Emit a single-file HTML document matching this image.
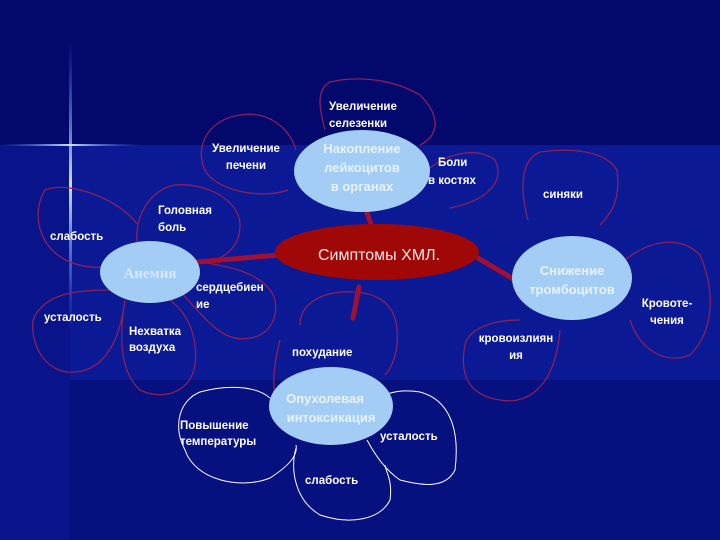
<!DOCTYPE html>
<html><head><meta charset="utf-8"><style>
html,body{margin:0;padding:0;}
body{width:720px;height:540px;overflow:hidden;background:#0b1690;}
svg{display:block;}
text{font-family:"Liberation Sans",sans-serif;font-weight:bold;}
</style></head><body>
<svg width="720" height="540" xmlns="http://www.w3.org/2000/svg">
<defs>
<linearGradient id="vs" x1="0" y1="0" x2="0" y2="1">
<stop offset="0" stop-color="#4a7aff" stop-opacity="0"/>
<stop offset="0.5" stop-color="#cfe0ff" stop-opacity="1"/>
<stop offset="1" stop-color="#4a7aff" stop-opacity="0"/>
</linearGradient>
<linearGradient id="hs" x1="0" y1="0" x2="1" y2="0">
<stop offset="0" stop-color="#4a7aff" stop-opacity="0"/>
<stop offset="0.5" stop-color="#cfe0ff" stop-opacity="1"/>
<stop offset="1" stop-color="#4a7aff" stop-opacity="0"/>
</linearGradient>
</defs>
<rect x="0" y="0" width="720" height="540" fill="#0c1994"/>
<rect x="0" y="0" width="720" height="145" fill="#03086c"/>
<rect x="0" y="145" width="70" height="395" fill="#0a148a"/>
<rect x="70" y="380" width="650" height="160" fill="#07107f"/>
<rect x="69" y="40" width="3" height="290" fill="url(#vs)"/>
<rect x="0" y="144" width="140" height="2" fill="url(#hs)"/>

<g fill="none" stroke="#8a1f5a" stroke-width="1.3">
<path d="M137 224 C120 200 70 180 45 190 C30 215 40 250 70 262 C90 270 110 268 118 262"/>
<path d="M137 242 C135 215 150 190 175 185 C205 182 240 200 240 225 C240 250 220 262 200 262"/>
<path d="M115 290 C85 290 45 290 33 320 C30 350 50 375 75 372 C105 370 120 340 125 300"/>
<path d="M125 300 C120 330 118 370 140 390 C160 400 190 395 195 365 C198 340 190 315 170 300"/>
<path d="M178 290 C200 310 220 345 250 338 C275 335 282 305 270 290 C255 270 220 265 200 262"/>
<path d="M296 150 C290 130 270 110 240 115 C205 120 195 150 205 170 C215 190 260 200 288 190"/>
<path d="M325 130 C320 110 315 90 330 82 C360 75 395 80 420 95 C440 115 440 135 420 145"/>
<path d="M425 172 C450 150 480 148 495 160 C505 180 490 200 450 208"/>
<path d="M528 220 C520 190 520 160 540 152 C570 148 605 150 617 170 C620 195 615 210 600 225"/>
<path d="M625 260 C650 240 680 235 700 255 C715 290 715 330 690 355 C665 365 640 350 630 320"/>
<path d="M520 320 C500 320 470 325 465 345 C460 370 465 395 500 400 C525 405 555 390 560 330"/>
<path d="M300 325 C300 305 320 290 355 292 C385 294 400 310 397 345 C395 360 390 370 385 375"/>
<path d="M275 395 C272 380 275 360 280 340"/>
</g>
<g fill="none" stroke="#ffffff" stroke-width="1">
<path d="M270 398 C255 385 225 385 200 392 C180 400 172 425 185 450 C195 480 240 490 270 478 C290 465 298 455 296 445"/>
<path d="M296 448 C290 470 295 500 320 515 C350 525 380 520 390 500 C393 480 385 470 385 465"/>
<path d="M373 405 C380 395 395 388 420 392 C450 400 460 430 455 470 C445 490 420 485 400 480 C385 470 375 455 367 440"/>
</g>

<g stroke="#a01030" stroke-width="5" stroke-linecap="round">
<line x1="366" y1="210" x2="372" y2="227"/>
<line x1="278" y1="255" x2="198" y2="262"/>
<line x1="478" y1="258" x2="515" y2="280"/>
<line x1="359" y1="287" x2="353" y2="318"/>
</g>

<ellipse cx="362" cy="171" rx="68" ry="41" fill="#a3cdf5"/>
<ellipse cx="377" cy="252" rx="102" ry="28" fill="#a00707"/>
<ellipse cx="572" cy="278" rx="60" ry="42" fill="#a3cdf5"/>
<ellipse cx="150" cy="272" rx="50" ry="31" fill="#a3cdf5"/>
<ellipse cx="331" cy="406" rx="62" ry="39" fill="#a3cdf5"/>

<g fill="#e8f2ff" font-size="13" text-anchor="middle">
<text x="362" y="153">Накопление</text>
<text x="362" y="172">лейкоцитов</text>
<text x="362" y="191">в органах</text>
<text x="572" y="275">Снижение</text>
<text x="572" y="294">тромбоцитов</text>
<text x="325" y="403">Опухолевая</text>
<text x="331" y="422">интоксикация</text>
</g>
<text x="150" y="278" fill="#d8e8ff" font-size="15" text-anchor="middle" style="font-family:'Liberation Serif',serif">Анемия</text>
<text x="379" y="260" fill="#ffe8e8" font-size="16" text-anchor="middle" style="font-weight:normal">Симптомы ХМЛ.</text>

<g fill="#ffffff" font-size="11.5" style="font-weight:normal">
<text x="329" y="110">Увеличение</text>
<text x="329" y="127">селезенки</text>
<text x="246" y="152" text-anchor="middle">Увеличение</text>
<text x="246" y="169" text-anchor="middle">печени</text>
<text x="438" y="166">Боли</text>
<text x="428" y="184">в костях</text>
<text x="563" y="198" text-anchor="middle">синяки</text>
<text x="158" y="214">Головная</text>
<text x="158" y="231">боль</text>
<text x="50" y="240">слабость</text>
<text x="196" y="291">сердцебиен</text>
<text x="196" y="308">ие</text>
<text x="44" y="321">усталость</text>
<text x="129" y="335">Нехватка</text>
<text x="129" y="351">воздуха</text>
<text x="292" y="356">похудание</text>
<text x="516" y="342" text-anchor="middle">кровоизлиян</text>
<text x="516" y="359" text-anchor="middle">ия</text>
<text x="667" y="307" text-anchor="middle">Кровоте-</text>
<text x="667" y="324" text-anchor="middle">чения</text>
<text x="180" y="429">Повышение</text>
<text x="180" y="445">температуры</text>
<text x="380" y="440">усталость</text>
<text x="305" y="484">слабость</text>
</g>
</svg>
</body></html>
